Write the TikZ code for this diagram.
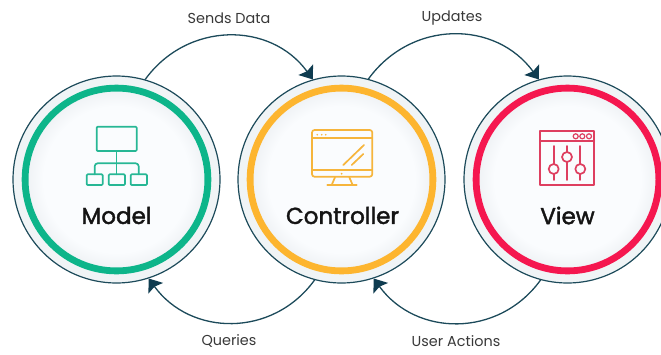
\documentclass[tikz,border=0pt]{standalone}
\usepackage{fontspec}
\setmainfont{Poppins}
\newfontfamily\titlefont{Poppins}[FakeBold=1.8]
\usetikzlibrary{arrows.meta}

\definecolor{outline}{HTML}{1C4A5A}
\definecolor{tipdark}{HTML}{0F3C50}
\definecolor{rimgray}{HTML}{F0F4F6}
\definecolor{facegray}{HTML}{FAFCFE}
\definecolor{faceedge}{HTML}{EEF1F4}
\definecolor{modelgreen}{HTML}{0DB58A}
\definecolor{controlorange}{HTML}{FDB52F}
\definecolor{viewred}{HTML}{F5174F}
\definecolor{modelicon}{HTML}{27B795}
\definecolor{controlicon}{HTML}{F6B53C}
\definecolor{viewicon}{HTML}{DE3F60}

\pgfdeclareradialshading{facefade}{\pgfpoint{0bp}{0bp}}{color(0bp)=(facegray); color(20bp)=(facegray); color(25bp)=(faceedge); color(50bp)=(faceedge)}

\begin{document}
\begin{tikzpicture}[x=1pt, y=-1pt]
        \tikzstyle{stage}=[circle, draw=outline, line width=1.2pt, fill=rimgray, minimum size=207pt, inner sep=0pt]
        \tikzstyle{ring}=[circle, line width=6.8pt, shading=facefade, minimum size=182.8pt, inner sep=0pt]
        \tikzstyle{title}=[font=\fontsize{23}{25}\titlefont, text=black!92]
        \tikzstyle{caption}=[font=\fontsize{14.4}{16}\selectfont, text=black!78]
        \tikzstyle{flow}=[-{Stealth[length=12pt, width=18pt, inset=2pt, color=tipdark]}, outline, line width=1.3pt, looseness=1.1]
        \tikzstyle{glyph}=[line width=1.7pt, line join=round, line cap=round]

        \useasboundingbox (0,0) rectangle (661,354);

        \node (model)      [stage] at (116.5,179.5) {};
        \node (controller) [stage] at (341.5,179.5) {};
        \node (view)       [stage] at (567.5,179.5) {};

        \node (modelring)      [ring, draw=modelgreen]    at (model) {};
        \node (controllerring) [ring, draw=controlorange] at (controller) {};
        \node (viewring)       [ring, draw=viewred]       at (view) {};

        \node (modeltitle)      [title] at (116.5,215.5) {Model};
        \node (controllertitle) [title] at (342.5,215.5) {Controller};
        \node (viewtitle)       [title] at (567.5,215.5) {View};

        \node (sends)   [caption] at (229,18)  {Sends Data};
        \node (updates) [caption] at (452,18)  {Updates};
        \node (queries) [caption] at (229,341) {Queries};
        \node (actions) [caption] at (456,341) {User Actions};

        \draw[flow, out=54, in=126]   (model.74)       to (controller.106);
        \draw[flow, out=54, in=126]   (controller.75)  to (view.106);
        \draw[flow, out=-126, in=-54] (controller.255) to (model.288);
        \draw[flow, out=-126, in=-54] (view.255)       to (controller.288);

        % model icon
        \draw[glyph, modelicon, rounded corners=1pt] (96.7,126.7) rectangle (136.7,151);
        \draw[glyph, modelicon] (116.5,151) -- (116.5,174.3);
        \draw[glyph, modelicon, rounded corners=3pt] (94.7,174.3) -- (94.7,163.3) -- (138.7,163.3) -- (138.7,174.3);
        \draw[glyph, modelicon, rounded corners=1pt] (86.7,174.3) rectangle (102.7,185);
        \draw[glyph, modelicon, rounded corners=1pt] (108.7,174.3) rectangle (125,185);
        \draw[glyph, modelicon, rounded corners=1pt] (130.7,174.3) rectangle (147,185);

        % controller icon
        \draw[glyph, controlicon, rounded corners=2.5pt] (312,130) rectangle (372.3,176.7);
        \draw[glyph, controlicon] (312,138.3) -- (372.3,138.3);
        \draw[glyph, controlicon] (312,170) -- (372.3,170);
        \foreach \dotx in {317.3,321.7,325.7}
            \fill[controlicon] (\dotx,134.7) circle (0.9);
        \fill[controlicon] (341.7,173.7) circle (1);
        \draw[glyph, controlicon] (343.3,165) -- (364,145);
        \draw[glyph, controlicon] (351.7,165) -- (363.3,154);
        \draw[glyph, controlicon] (335,177.3) -- (331.7,185);
        \draw[glyph, controlicon] (349.3,177.3) -- (352.7,185);
        \draw[glyph, controlicon] (327.3,185.3) -- (356.7,185.3);

        % view icon
        \draw[glyph, viewicon] (540,130.7) rectangle (594.3,185.3);
        \draw[glyph, viewicon] (540,141) -- (594.3,141);
        \foreach \dotx in {575.7,582.3,589}
            \draw[viewicon, line width=1.2pt] (\dotx,136.3) circle (2.5);
        \foreach \slidex/\knoby in {553.7/169,567/157,580.3/169} {
            \draw[glyph, viewicon] (\slidex,146) -- (\slidex,180);
            \draw[glyph, viewicon, fill=facegray] (\slidex,\knoby) circle (5);
        }
    \end{tikzpicture}
\end{document}
